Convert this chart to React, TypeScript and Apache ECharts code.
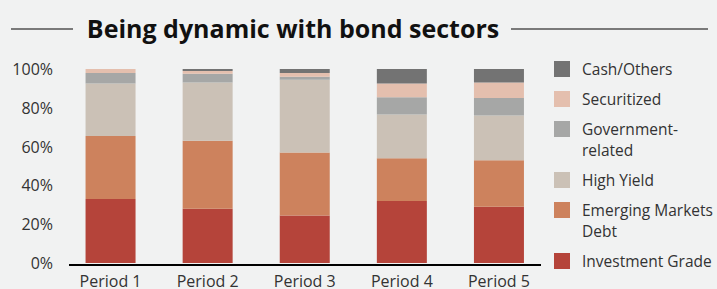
import React, { useEffect, useRef } from "react";
import * as echarts from "echarts";

const categories = ["Period 1", "Period 2", "Period 3", "Period 4", "Period 5"];
const investmentGrade = [33, 28, 24.5, 32, 29];
const emergingMarkets = [32.5, 35, 32.5, 22, 24];
const highYield = [27, 30, 37.5, 22.5, 23];
const governmentRelated = [5.5, 4.5, 1.5, 9, 9];
const securitized = [2, 1.5, 2, 7, 8];
const cashOthers = [0, 1, 2, 7.5, 7];
const yTicks = [0, 20, 40, 60, 80, 100];

const seriesDefs = [
  { name: "Investment Grade", label: ["Investment Grade"], data: investmentGrade, color: "#b5443a" },
  { name: "Emerging Markets Debt", label: ["Emerging Markets", "Debt"], data: emergingMarkets, color: "#cd825d" },
  { name: "High Yield", label: ["High Yield"], data: highYield, color: "#cbc1b6" },
  { name: "Government-related", label: ["Government-", "related"], data: governmentRelated, color: "#a6a7a6" },
  { name: "Securitized", label: ["Securitized"], data: securitized, color: "#e4bfae" },
  { name: "Cash/Others", label: ["Cash/Others"], data: cashOthers, color: "#737373" },
];

const FONT = "'Open Sans', 'Noto Sans', sans-serif";

export default function App() {
  const ref = useRef<HTMLDivElement>(null);
  useEffect(() => {
    if (!ref.current) return;
    const chart = echarts.init(ref.current, null, { renderer: "svg" });

    // legend (top to bottom: reverse of stacking order)
    const legendOrder = [...seriesDefs].reverse();
    const legendGraphics: any[] = [];
    let y = 69;
    legendOrder.forEach((s) => {
      legendGraphics.push({
        type: "rect",
        shape: { x: 554, y: y - 8, width: 16, height: 16 },
        style: { fill: s.color },
      });
      s.label.forEach((line, i) => {
        legendGraphics.push({
          type: "text",
          x: 582,
          y: y + i * 21,
          style: {
            text: line,
            font: `15.5px ${FONT}`,
            fill: "#333333",
            textAlign: "left",
            textVerticalAlign: "middle",
          },
        });
      });
      y += s.label.length * 21 + 9;
    });

    chart.setOption({
      animation: false,
      backgroundColor: "#f1f2f2",
      textStyle: { fontFamily: FONT },
      grid: { left: 62, right: 169.5, top: 69, bottom: 25, containLabel: false },
      xAxis: {
        type: "category",
        data: categories,
        axisLine: { show: false },
        axisTick: { show: false },
        axisLabel: { color: "#333333", fontSize: 16, margin: 10, fontFamily: FONT },
      },
      yAxis: {
        type: "value",
        min: yTicks[0],
        max: yTicks[yTicks.length - 1],
        interval: 20,
        splitLine: { show: false },
        axisLine: { show: false },
        axisTick: { show: false },
        axisLabel: { color: "#333333", fontSize: 16, margin: 9, formatter: "{value}%", fontFamily: FONT },
      },
      series: seriesDefs.map((s) => ({
        name: s.name,
        type: "bar",
        stack: "total",
        barWidth: 50,
        data: s.data,
        itemStyle: { color: s.color },
      })),
      graphic: [
        {
          type: "line",
          shape: { x1: 69, y1: 265, x2: 541, y2: 265 },
          style: { stroke: "#000000", lineWidth: 2 },
          z: 10,
        },
        {
          type: "line",
          shape: { x1: 11, y1: 29, x2: 73, y2: 29 },
          style: { stroke: "#7a7a7a", lineWidth: 2 },
        },
        {
          type: "line",
          shape: { x1: 511, y1: 29, x2: 708, y2: 29 },
          style: { stroke: "#7a7a7a", lineWidth: 2 },
        },
        {
          type: "text",
          x: 293,
          y: 28,
          style: {
            text: "Being dynamic with bond sectors",
            font: `bold 25px ${FONT}`,
            fill: "#111111",
            textAlign: "center",
            textVerticalAlign: "middle",
          },
        },
        ...legendGraphics,
      ],
    });
    return () => chart.dispose();
  }, []);
  return (
    <div
      ref={ref}
      style={{ position: "fixed", left: 0, top: 0, width: 717, height: 289 }}
    />
  );
}
